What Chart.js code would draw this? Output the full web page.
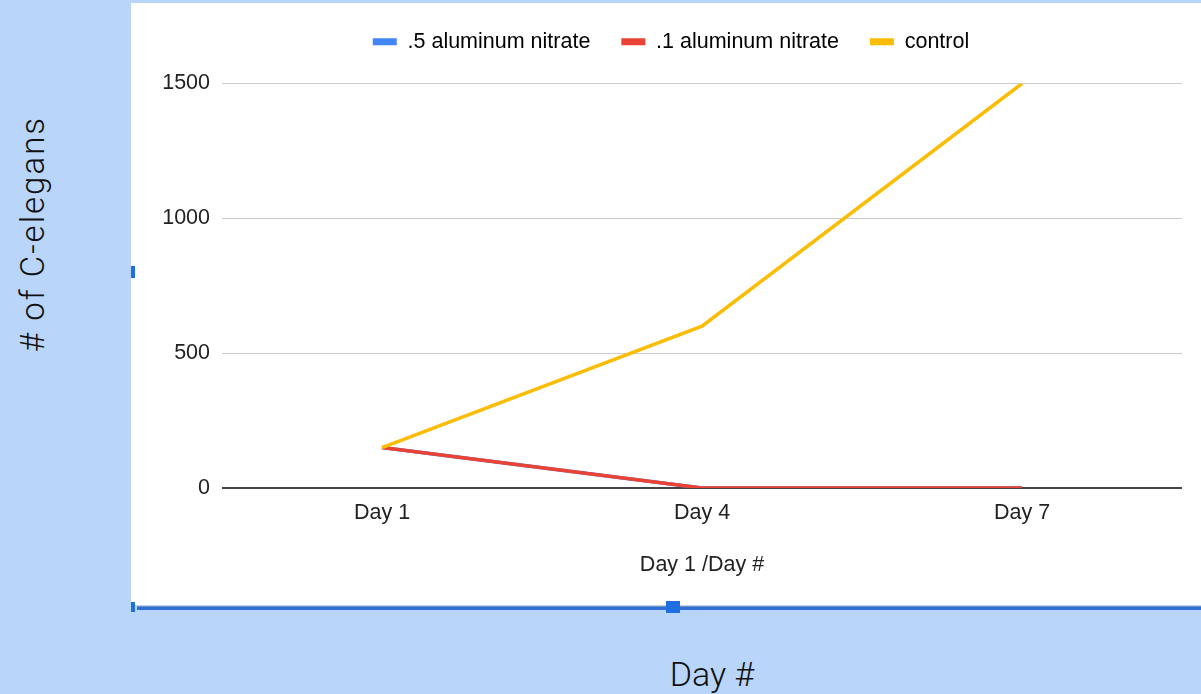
<!DOCTYPE html>
<html>
<head>
<meta charset="utf-8">
<script src="https://cdn.jsdelivr.net/npm/chart.js@4.4.1/dist/chart.umd.min.js"></script>
<style>
  html, body { margin: 0; padding: 0; }
  body {
    width: 1201px; height: 694px; overflow: hidden;
    background: #b9d5fa; position: relative;
    font-family: Roboto, "Liberation Sans", sans-serif;
  }
  #panel {
    position: absolute; left: 131px; top: 3px; width: 1070px; height: 602px;
    background: #ffffff;
  }
  #panel canvas { display: block; }
  .sel-line {
    position: absolute; left: 137px; top: 606px; width: 1064px; height: 3px;
    background: #2f6fd3; border-top: 1px solid #6d8fbf;
  }
  .handle { position: absolute; background: #1f6fe0; }
  #h-left-bottom { left: 131px; top: 602px; width: 4px; height: 10px; }
  #h-mid-bottom { left: 666px; top: 601px; width: 14px; height: 12px; }
  #h-left-mid { left: 131px; top: 266px; width: 4px; height: 12px; }
  .outer-label {
    position: absolute; color: #111; font-family: Roboto, sans-serif; font-weight: 300;
    white-space: nowrap;
  }
  #y-label {
    left: 32px; top: 234px; font-size: 33px; letter-spacing: 2px;
    transform: translate(-50%, -50%) rotate(-90deg);
  }
  #x-label {
    left: 712px; top: 674px; font-size: 34px;
    transform: translate(-50%, -50%);
  }
</style>
</head>
<body>
<div id="panel"><canvas id="chart" width="1070" height="602"></canvas></div>
<div class="sel-line"></div>
<div class="handle" id="h-left-bottom"></div>
<div class="handle" id="h-mid-bottom"></div>
<div class="handle" id="h-left-mid"></div>
<div class="outer-label" id="y-label"># of C-elegans</div>
<div class="outer-label" id="x-label">Day #</div>
<script>
// Observation days
const days = ['Day 1', 'Day 4', 'Day 7'];
// Worm counts per treatment
const alNitrate05 = [150, 0, 0];
const alNitrate01 = [150, 0, 0];
const control = [150, 600, 1500];
// Value axis ticks
const yTicks = [0, 500, 1000, 1500];

const seriesNames = ['.5 aluminum nitrate', '.1 aluminum nitrate', 'control'];
const seriesColors = ['#4285f4', '#ea4335', '#fbbc04'];
const seriesData = [alNitrate05, alNitrate01, control];

const baseFont = { family: '"Liberation Sans", Arial, sans-serif', size: 21.5 };

const datasets = seriesData.map((d, i) => ({
  label: seriesNames[i],
  data: d,
  borderColor: seriesColors[i],
  backgroundColor: seriesColors[i],
  borderWidth: 3.5,
  pointRadius: 0,
  pointHoverRadius: 0,
  tension: 0,
  order: seriesData.length - 1 - i   // later series painted on top
}));

// Extra space between the legend row and the plot area
const legendGap = {
  id: 'legendGap',
  beforeLayout(chart) {
    const lg = chart.legend;
    if (lg && !lg._gapAdded) {
      const fit = lg.fit.bind(lg);
      lg.fit = function () { fit(); this.height += 21; };
      lg._gapAdded = true;
    }
  }
};

const padLeft = 29;

new Chart(document.getElementById('chart'), {
  type: 'line',
  data: { labels: days, datasets },
  plugins: [legendGap],
  options: {
    responsive: false,
    animation: false,
    layout: { padding: { left: padLeft, right: 19, top: -3, bottom: 0 } },
    plugins: {
      tooltip: { enabled: false },
      legend: {
        position: 'top',
        labels: {
          font: baseFont,
          color: '#222',
          boxWidth: 24,
          boxHeight: 7,
          padding: 31,
          generateLabels: (chart) => chart.data.datasets.map((ds, i) => ({
            text: ds.label,
            fillStyle: ds.borderColor,
            strokeStyle: ds.borderColor,
            lineWidth: 0,
            datasetIndex: i,
            hidden: false
          }))
        }
      }
    },
    scales: {
      x: {
        offset: true,
        grid: { display: false, drawTicks: false },
        border: { display: false },
        ticks: { font: baseFont, color: '#222', padding: 12 },
        title: {
          display: true, text: 'Day 1 /Day #',
          font: baseFont, color: '#222',
          padding: { top: 0, bottom: 27 }
        },
        afterFit: (s) => { s.height = 117; }
      },
      y: {
        min: 0, max: 1500,
        afterBuildTicks: (s) => { s.ticks = yTicks.map(v => ({ value: v })); },
        grid: {
          drawTicks: false,
          color: (c) => c.tick && c.tick.value === 0 ? '#444444' : '#cccccc',
          lineWidth: (c) => c.tick && c.tick.value === 0 ? 2 : 1
        },
        border: { display: false },
        ticks: {
          font: baseFont, color: '#222', padding: 12,
          callback: (v) => String(v)
        },
        afterFit: (s) => { s.width = 91 - padLeft; }
      }
    }
  }
});
</script>
</body>
</html>
